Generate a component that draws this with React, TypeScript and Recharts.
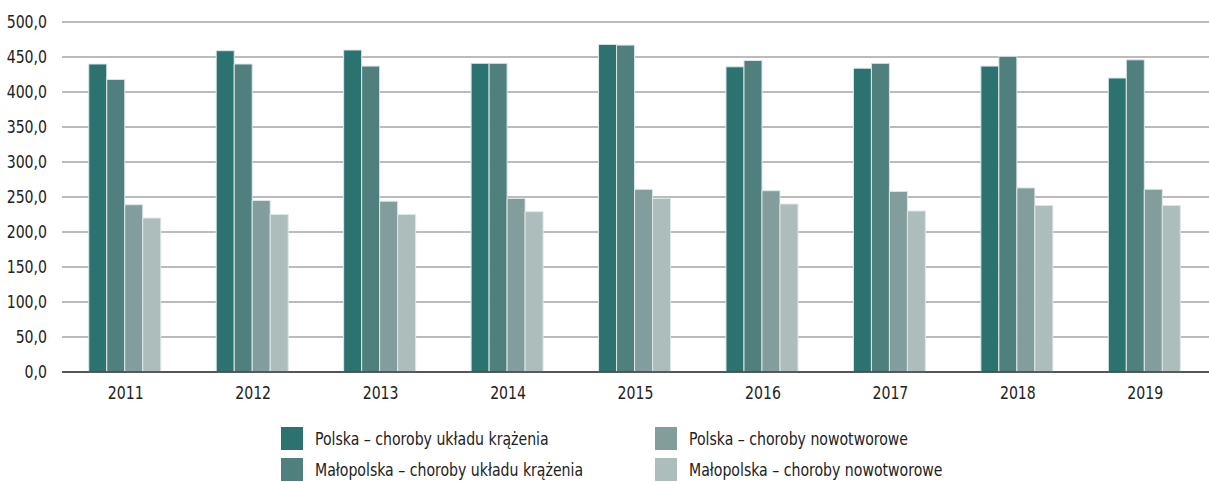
import { Bar, BarChart, CartesianGrid, XAxis, YAxis } from "recharts";

const years = ["2011", "2012", "2013", "2014", "2015", "2016", "2017", "2018", "2019"];
const polskaKrazenie = [440, 459, 460, 441, 468, 436, 434, 437, 420];
const malopolskaKrazenie = [418, 440, 437, 441, 467, 445, 441, 451, 446];
const polskaNowotwory = [239, 245, 244, 248, 261, 259, 258, 263, 261];
const malopolskaNowotwory = [220, 225, 225, 229, 248, 240, 230, 238, 238];
const yTicks = [0, 50, 100, 150, 200, 250, 300, 350, 400, 450, 500];

const series = [
  { key: "pk", name: "Polska – choroby układu krążenia", color: "#2b7270" },
  { key: "mk", name: "Małopolska – choroby układu krążenia", color: "#50807e" },
  { key: "pn", name: "Polska – choroby nowotworowe", color: "#839d9c" },
  { key: "mn", name: "Małopolska – choroby nowotworowe", color: "#adbdbc" },
];

const data = years.map((year, i) => ({
  year,
  pk: polskaKrazenie[i],
  mk: malopolskaKrazenie[i],
  pn: polskaNowotwory[i],
  mn: malopolskaNowotwory[i],
}));

const FONT = '"DejaVu Sans Condensed", "DejaVu Sans", sans-serif';
const SQUEEZE = 0.87;

// the original uses a condensed face, so squeeze the text horizontally
function NarrowTick({ x, y, payload, anchor, dy, format }: any) {
  const label = format ? format(payload.value) : payload.value;
  return (
    <g transform={`translate(${x},${y})`}>
      <text
        transform={`scale(${SQUEEZE},1)`}
        textAnchor={anchor}
        dy={dy}
        fill="#222"
        fontSize={18}
        fontFamily={FONT}
      >
        {label}
      </text>
    </g>
  );
}

const fmt = (v: number) => v.toFixed(1).replace(".", ",");

function LegendItem({ name, color, x, y }: { name: string; color: string; x: number; y: number }) {
  return (
    <div style={{ position: "absolute", left: x, top: y, display: "flex", alignItems: "center", whiteSpace: "nowrap" }}>
      <span style={{ width: 22, height: 23, background: color, display: "inline-block", marginRight: 12 }} />
      <span
        style={{
          fontFamily: FONT,
          fontSize: 18,
          color: "#222",
          display: "inline-block",
          transform: `scaleX(${SQUEEZE})`,
          transformOrigin: "left center",
        }}
      >
        {name}
      </span>
    </div>
  );
}

export default function App() {
  return (
    <div style={{ position: "absolute", left: 0, top: 0, width: 1209, height: 482, background: "#fff" }}>
      <BarChart
        width={1209}
        height={482}
        data={data}
        margin={{ top: 22, right: 0, bottom: 80, left: 0 }}
        barCategoryGap="21%"
        barGap={0}
      >
        <CartesianGrid vertical={false} stroke="#a5a5a5" strokeWidth={1.3} />
        <XAxis
          dataKey="year"
          height={30}
          tickLine={false}
          axisLine={{ stroke: "#333", strokeWidth: 1.3 }}
          tickMargin={8}
          tick={(p: any) => <NarrowTick {...p} anchor="middle" dy="0.71em" />}
        />
        <YAxis
          width={62}
          domain={[0, 500]}
          ticks={yTicks}
          interval={0}
          tickLine={false}
          axisLine={false}
          tickMargin={9}
          tick={(p: any) => <NarrowTick {...p} anchor="end" dy="0.355em" format={fmt} />}
        />
        {series.map((s) => (
          <Bar
            key={s.key}
            dataKey={s.key}
            name={s.name}
            fill={s.color}
            stroke="#dce8e7"
            strokeWidth={1}
            isAnimationActive={false}
          />
        ))}
      </BarChart>
      <LegendItem name={series[0].name} color={series[0].color} x={281} y={427} />
      <LegendItem name={series[1].name} color={series[1].color} x={281} y={458} />
      <LegendItem name={series[2].name} color={series[2].color} x={655} y={427} />
      <LegendItem name={series[3].name} color={series[3].color} x={655} y={458} />
    </div>
  );
}
